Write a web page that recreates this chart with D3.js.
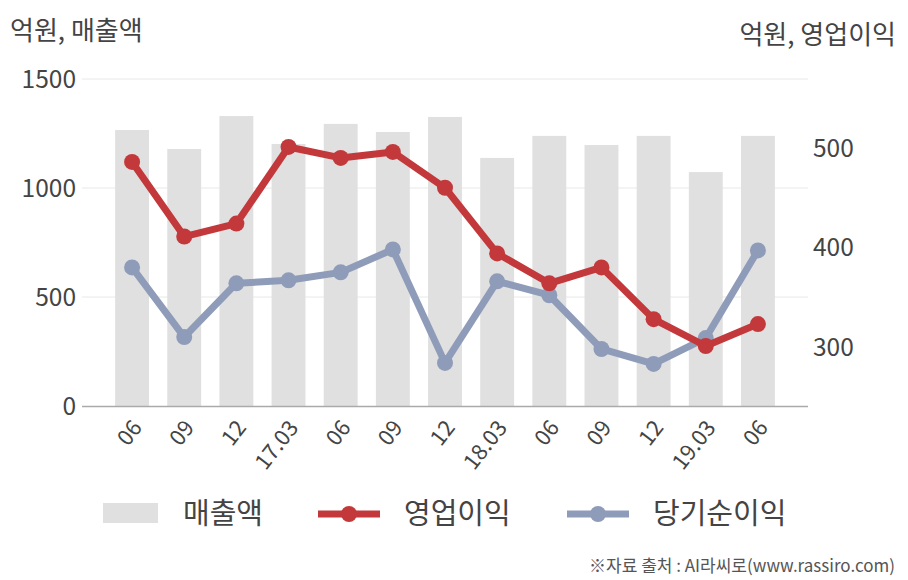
<!DOCTYPE html>
<html>
<head>
<meta charset="utf-8">
<script src="https://cdn.jsdelivr.net/npm/d3@7"></script>
<style>
  body { margin: 0; background: #fff; }
  text { font-family: "Noto Sans CJK KR", "Noto Sans", sans-serif; }
</style>
</head>
<body>
<svg></svg>
<script>
// data
const categories = ['06', '09', '12', '17.03', '06', '09', '12', '18.03', '06', '09', '12', '19.03', '06'];
const sales = [1266, 1179, 1330, 1202, 1294, 1257, 1326, 1138, 1239, 1197, 1239, 1073, 1239];
const opIncome = [486, 411, 424, 501, 490, 496, 460, 394, 364, 380, 328, 301, 323];
const netIncome = [380, 310, 364, 367, 375, 398, 284, 366, 352, 298, 283, 309, 397];
const leftTicks = [0, 500, 1000, 1500];
const rightTicks = [300, 400, 500];

const width = 908;
const height = 580;
const plotLeft = 82;
const plotRight = 808;
const plotTop = 79;
const plotBottom = 406;

const red = '#c3393b';
const blue = '#8f9cb9';
const barColor = '#e0e0e0';
const textColor = '#444';

const svg = d3.select('svg')
  .attr('width', width)
  .attr('height', height);

// scales
const x = d3.scaleBand()
  .domain(d3.range(categories.length))
  .range([106, 784])
  .paddingInner(0.35)
  .paddingOuter(0.175);

const yLeft = d3.scaleLinear()
  .domain([0, 1500])
  .range([plotBottom, plotTop]);

const yRight = d3.scaleLinear()
  .domain([240.7, 569.3])
  .range([plotBottom, plotTop]);

// grid
svg.append('g')
  .selectAll('line')
  .data(leftTicks.slice(1))
  .enter()
  .append('line')
  .attr('x1', plotLeft)
  .attr('x2', plotRight)
  .attr('y1', d => yLeft(d))
  .attr('y2', d => yLeft(d))
  .attr('stroke', '#e8e8e8')
  .attr('stroke-width', 1);

// bars
svg.append('g')
  .selectAll('rect')
  .data(sales)
  .enter()
  .append('rect')
  .attr('x', (d, i) => x(i))
  .attr('width', x.bandwidth())
  .attr('y', d => yLeft(d))
  .attr('height', d => plotBottom - yLeft(d))
  .attr('fill', barColor);

// x axis line
svg.append('line')
  .attr('x1', plotLeft)
  .attr('x2', plotRight)
  .attr('y1', plotBottom + 0.5)
  .attr('y2', plotBottom + 0.5)
  .attr('stroke', '#aaa')
  .attr('stroke-width', 1.5);

// lines
function drawSeries(values, color) {
  const line = d3.line()
    .x((d, i) => x(i) + x.bandwidth() / 2)
    .y(d => yRight(d));

  svg.append('path')
    .datum(values)
    .attr('d', line)
    .attr('fill', 'none')
    .attr('stroke', color)
    .attr('stroke-width', 7)
    .attr('stroke-linejoin', 'round');

  svg.append('g')
    .selectAll('circle')
    .data(values)
    .enter()
    .append('circle')
    .attr('cx', (d, i) => x(i) + x.bandwidth() / 2)
    .attr('cy', d => yRight(d))
    .attr('r', 8)
    .attr('fill', color);
}

drawSeries(netIncome, blue);
drawSeries(opIncome, red);

// left axis labels
svg.append('g')
  .selectAll('text')
  .data(leftTicks)
  .enter()
  .append('text')
  .attr('x', 76)
  .attr('y', d => yLeft(d))
  .attr('dy', '0.35em')
  .attr('text-anchor', 'end')
  .attr('font-size', 24.5)
  .attr('fill', textColor)
  .text(d => d);

// right axis labels
svg.append('g')
  .selectAll('text')
  .data(rightTicks)
  .enter()
  .append('text')
  .attr('x', 813)
  .attr('y', d => yRight(d))
  .attr('dy', '0.35em')
  .attr('text-anchor', 'start')
  .attr('font-size', 24.5)
  .attr('fill', textColor)
  .text(d => d);

// x labels
svg.append('g')
  .selectAll('text')
  .data(categories)
  .enter()
  .append('text')
  .attr('text-anchor', 'end')
  .attr('font-size', 22)
  .attr('fill', textColor)
  .attr('transform', (d, i) => 'translate(' + (x(i) + x.bandwidth() / 2 + 11) + ',' + 428 + ') rotate(-52)')
  .text(d => d);

// titles
svg.append('text')
  .attr('x', 10)
  .attr('y', 40)
  .attr('font-size', 26)
  .attr('fill', textColor)
  .text('억원, 매출액');

svg.append('text')
  .attr('x', 896)
  .attr('y', 44)
  .attr('text-anchor', 'end')
  .attr('font-size', 26)
  .attr('fill', textColor)
  .text('억원, 영업이익');

// legend
const legend = svg.append('g');

legend.append('rect')
  .attr('x', 103)
  .attr('y', 503)
  .attr('width', 55)
  .attr('height', 20)
  .attr('fill', barColor);

legend.append('text')
  .attr('x', 183)
  .attr('y', 514)
  .attr('dy', '0.35em')
  .attr('font-size', 29)
  .attr('fill', textColor)
  .text('매출액');

const legendLines = [
  { name: '영업이익', color: red, x: 318 },
  { name: '당기순이익', color: blue, x: 567 }
];

legendLines.forEach(function (item) {
  legend.append('line')
    .attr('x1', item.x)
    .attr('x2', item.x + 62)
    .attr('y1', 514)
    .attr('y2', 514)
    .attr('stroke', item.color)
    .attr('stroke-width', 7);
  legend.append('circle')
    .attr('cx', item.x + 31)
    .attr('cy', 514)
    .attr('r', 8)
    .attr('fill', item.color);
  legend.append('text')
    .attr('x', item.x + 86)
    .attr('y', 514)
    .attr('dy', '0.35em')
    .attr('font-size', 29)
    .attr('fill', textColor)
    .text(item.name);
});

// source
svg.append('text')
  .attr('x', 895)
  .attr('y', 572)
  .attr('text-anchor', 'end')
  .attr('font-size', 17)
  .attr('fill', '#555')
  .text('※자료 출처 : AI라씨로(www.rassiro.com)');
</script>
</body>
</html>
